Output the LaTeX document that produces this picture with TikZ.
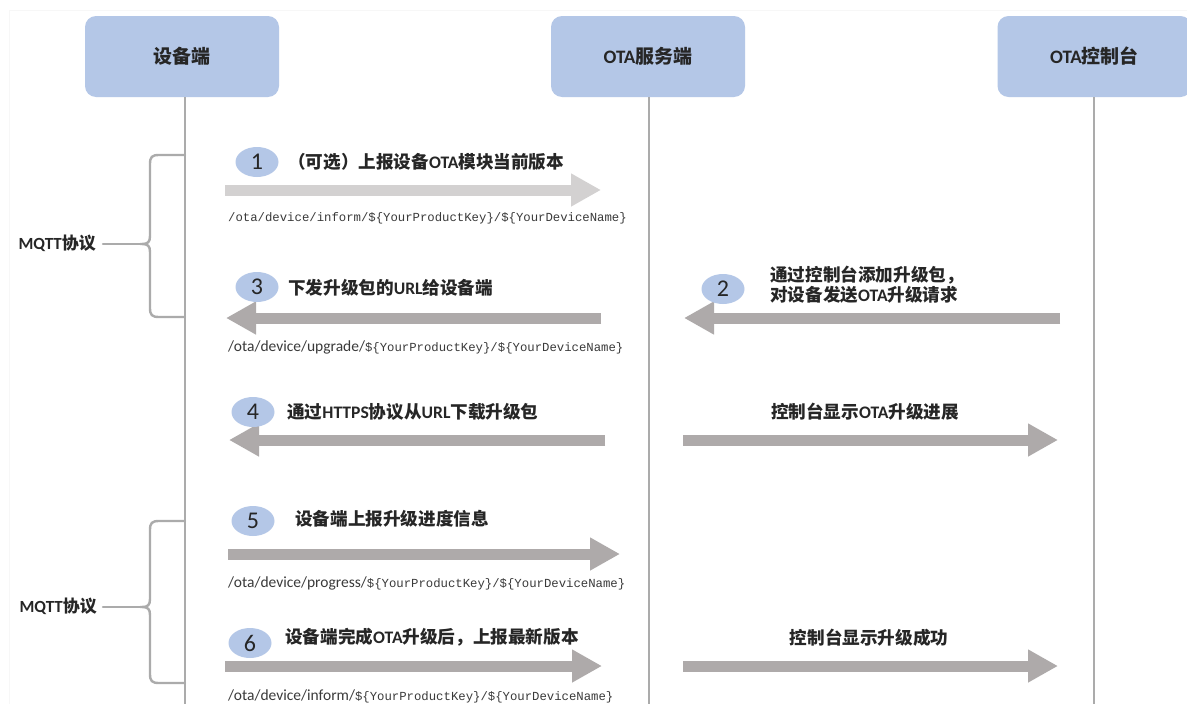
\documentclass[tikz,border=0pt]{standalone}
\usepackage{fontspec}
\setmainfont{Noto Sans CJK SC}
\newfontfamily\lat{Carlito}
\newfontfamily\mono{Liberation Mono}
\usetikzlibrary{arrows.meta,shapes.geometric}
\definecolor{boxblue}{HTML}{B4C7E7}
\definecolor{lifegray}{HTML}{ABABAB}
\definecolor{arrgray}{HTML}{AEAAAA}
\definecolor{arrlight}{HTML}{D3D1D1}
\definecolor{txt}{HTML}{262626}
\definecolor{pathtxt}{HTML}{3A3A3A}
\tikzset{
  actor/.style={fill=boxblue, rounded corners=11pt, minimum width=194pt, minimum height=81pt, inner sep=0pt, text=txt, font=\bfseries\fontsize{19}{22}\selectfont},
  life/.style={draw=lifegray, line width=2pt},
  bracestyle/.style={draw=lifegray, line width=2.4pt, line cap=round},
  blockarrow/.style={draw=arrgray, line width=11pt, -{Triangle[width=31pt,length=30pt]}},
  lightarrow/.style={draw=arrlight, line width=11pt, -{Triangle[width=31pt,length=30pt]}},
  num/.style={ellipse, fill=boxblue, minimum width=43pt, minimum height=30pt, inner sep=0pt, text=txt, font=\lat\fontsize{24}{24}\selectfont},
  msg/.style={anchor=west, inner sep=0pt, text=txt, font=\bfseries\fontsize{17.6}{20}\selectfont},
  msgc/.style={inner sep=0pt, text=txt, font=\bfseries\fontsize{17.6}{20}\selectfont},
  topic/.style={anchor=west, inner sep=0pt, text=pathtxt, font=\fontsize{12.3}{14}\selectfont},
  proto/.style={anchor=east, inner sep=0pt, text=txt, font=\bfseries\fontsize{17}{18}\selectfont}
}
\begin{document}
\begin{tikzpicture}[x=1pt,y=-1pt]
\useasboundingbox (0,0) rectangle (1187,704);
\fill[white] (0,0) rectangle (1187,704);
% faint frame
\draw[black!3, line width=1pt] (9,704) -- (9,10) -- (1187,10);

% actors
\node[actor] (dev) at (182,56.5) {设备端};
\node[actor] (srv) at (648,56.5) {{\lat OTA}服务端};
\node[actor] (con) at (1094.5,56.5) {{\lat OTA}控制台};

% lifelines
\coordinate (l1t) at (185,97);  \coordinate (l1b) at (185,704);
\coordinate (l2t) at (649,97);  \coordinate (l2b) at (649,704);
\coordinate (l3t) at (1094,97); \coordinate (l3b) at (1094,704);
\draw[life] (l1t) -- (l1b);
\draw[life] (l2t) -- (l2b);
\draw[life] (l3t) -- (l3b);

% braces
\draw[bracestyle] (185,155) -- (159,155) .. controls (152,155) and (150,157) .. (150,164) -- (150,236)
  .. controls (150,242) and (148,244) .. (142,244) .. controls (148,244) and (150,246) .. (150,252)
  -- (150,308) .. controls (150,315) and (152,317) .. (159,317) -- (185,317);
\coordinate (b1tip) at (142,244);
\coordinate (b1lab) at (103,244);
\draw[bracestyle] (b1lab) -- (b1tip);
\node[proto] (p1) at (96,243) {{\lat MQTT}协议};

\draw[bracestyle] (185,521) -- (159,521) .. controls (152,521) and (150,523) .. (150,530) -- (150,599)
  .. controls (150,605) and (148,607) .. (142,607) .. controls (148,607) and (150,609) .. (150,615)
  -- (150,674) .. controls (150,681) and (152,683) .. (159,683) -- (185,683);
\coordinate (b2tip) at (142,607);
\coordinate (b2lab) at (103,607);
\draw[bracestyle] (b2lab) -- (b2tip);
\node[proto] (p2) at (97,606) {{\lat MQTT}协议};

% step 1
\coordinate (a1s) at (225,190); \coordinate (a1e) at (601,190);
\draw[lightarrow] (a1s) -- (a1e);
\node[num] (n1) at (257,162) {1};
\node[msg] (m1) at (288,162) {（可选）上报设备{\lat OTA}模块当前版本};
\node[topic] (t1) at (228,218) {\mono /ota/device/inform/\$\{YourProductKey\}/\$\{YourDeviceName\}};

% step 2
\coordinate (a2s) at (1060,318); \coordinate (a2e) at (684,318);
\draw[blockarrow] (a2s) -- (a2e);
\node[num] (n2) at (723,289) {2};
\node[msg, align=left] (m2) at (770,285) {通过控制台添加升级包，\\对设备发送{\lat OTA}升级请求};

% step 3
\coordinate (a3s) at (601,318); \coordinate (a3e) at (226,318);
\draw[blockarrow] (a3s) -- (a3e);
\node[num] (n3) at (257,287) {3};
\node[msg] (m3) at (288,288) {下发升级包的{\lat URL}给设备端};
\node[topic] (t3) at (228,347) {{\lat\fontsize{15.5}{16}\selectfont /ota/device/upgrade/}{\mono \$\{YourProductKey\}/\$\{YourDeviceName\}}};

% step 4
\coordinate (a4s) at (605,440); \coordinate (a4e) at (229,440);
\draw[blockarrow] (a4s) -- (a4e);
\node[num] (n4) at (253,412) {4};
\node[msg] (m4) at (287,412) {通过{\lat HTTPS}协议从{\lat URL}下载升级包};

\coordinate (a4bs) at (683,440); \coordinate (a4be) at (1058,440);
\draw[blockarrow] (a4bs) -- (a4be);
\node[msgc] (m4b) at (865,412) {控制台显示{\lat OTA}升级进展};

% step 5
\coordinate (a5s) at (228,554); \coordinate (a5e) at (620,554);
\draw[blockarrow] (a5s) -- (a5e);
\node[num] (n5) at (253,521) {5};
\node[msg] (m5) at (295,519) {设备端上报升级进度信息};
\node[topic] (t5) at (228,583) {{\lat\fontsize{15.5}{16}\selectfont /ota/device/progress/}{\mono \$\{YourProductKey\}/\$\{YourDeviceName\}}};

% step 6
\coordinate (a6s) at (225,666); \coordinate (a6e) at (602,666);
\draw[blockarrow] (a6s) -- (a6e);
\node[num] (n6) at (250,643) {6};
\node[msg] (m6) at (285,637) {设备端完成{\lat OTA}升级后，上报最新版本};
\node[topic] (t6) at (228,696) {{\lat\fontsize{15.5}{16}\selectfont /ota/device/inform/}{\mono \$\{YourProductKey\}/\$\{YourDeviceName\}}};

\coordinate (a6bs) at (683,666); \coordinate (a6be) at (1058,666);
\draw[blockarrow] (a6bs) -- (a6be);
\node[msgc] (m6b) at (869,638) {控制台显示升级成功};
\end{tikzpicture}
\end{document}
